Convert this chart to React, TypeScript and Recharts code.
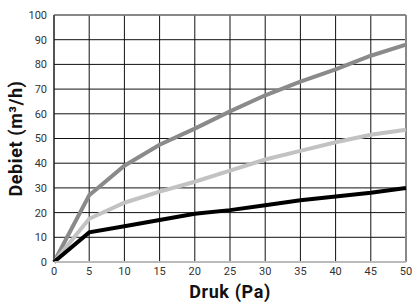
import React from 'react';
import { LineChart, Line, XAxis, YAxis, CartesianGrid, ReferenceLine } from 'recharts';

// pressure (Pa) on the x axis
const pressures = [0, 5, 10, 15, 20, 25, 30, 35, 40, 45, 50];
// flow (m3/h) per curve
const flowHigh = [0, 27, 39, 47.5, 54, 61, 67.5, 73, 78, 83.5, 88];
const flowMid = [0, 17.5, 24, 28.5, 32.5, 37, 41.5, 45, 48.5, 51.5, 53.5];
const flowLow = [0, 12, 14.5, 17, 19.5, 21, 23, 25, 26.5, 28, 30];

const xTicks = [0, 5, 10, 15, 20, 25, 30, 35, 40, 45, 50];
const yTicks = [0, 10, 20, 30, 40, 50, 60, 70, 80, 90, 100];

const data = pressures.map((p, i) => ({
  druk: p,
  high: flowHigh[i],
  mid: flowMid[i],
  low: flowLow[i],
}));

const tickStyle = { fill: '#333', fontSize: 11, fontFamily: 'Roboto' };

const YTitle = (props: any) => {
  const { viewBox } = props;
  const x = viewBox.x + 15;
  const y = viewBox.y + viewBox.height / 2;
  return (
    <text
      x={x}
      y={y}
      transform={`rotate(-90, ${x}, ${y})`}
      textAnchor="middle"
      dominantBaseline="central"
      fontFamily="Roboto"
      fontWeight="bold"
      fontSize={18}
      letterSpacing={0.6}
      fill="#111"
    >
      Debiet (m³/h)
    </text>
  );
};

const App = () => {
  return (
    <div style={{ position: 'absolute', left: 0, top: 0 }}>
      <LineChart
        width={412}
        height={304}
        data={data}
        margin={{ top: 15, right: 6, bottom: 0, left: 0 }}
      >
        <CartesianGrid stroke="#111" strokeWidth={1} />
        <XAxis
          dataKey="druk"
          type="number"
          domain={[0, 50]}
          ticks={xTicks}
          height={42}
          tickSize={0}
          tickMargin={5}
          tickLine={false}
          axisLine={{ stroke: '#bbb', strokeWidth: 2 }}
          tick={tickStyle}
          interval={0}
          label={{
            value: 'Druk (Pa)',
            position: 'insideBottom',
            offset: 6,
            style: { fontFamily: 'Roboto', fontWeight: 'bold', fontSize: 18, letterSpacing: 0.6, fill: '#111' },
          }}
        />
        <YAxis
          type="number"
          domain={[0, 100]}
          ticks={yTicks}
          width={54}
          tickSize={0}
          tickMargin={7}
          tickLine={false}
          axisLine={{ stroke: '#222' }}
          tick={tickStyle}
          interval={0}
          label={<YTitle />}
        />
        <ReferenceLine y={100} stroke="#888" strokeWidth={1.5} />
        <ReferenceLine x={50} stroke="#888" strokeWidth={2} />
        <Line type="linear" dataKey="high" stroke="#8a8a8a" strokeWidth={4} dot={false} isAnimationActive={false} />
        <Line type="linear" dataKey="mid" stroke="#c2c2c2" strokeWidth={4} dot={false} isAnimationActive={false} />
        <Line type="linear" dataKey="low" stroke="#000" strokeWidth={4} dot={false} isAnimationActive={false} />
      </LineChart>
    </div>
  );
};

export default App;
